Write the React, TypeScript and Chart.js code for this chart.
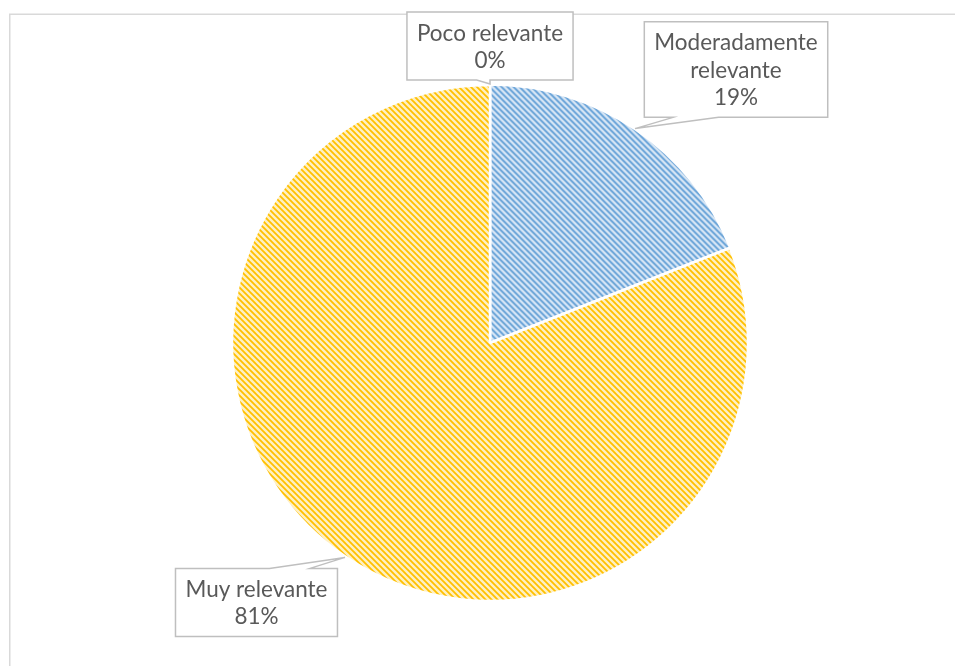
import React, { useEffect, useRef } from 'react';
import { Chart, registerables } from 'chart.js';

Chart.register(...registerables);

// ---- data ----
const categories = ['Poco relevante', 'Moderadamente relevante', 'Muy relevante'];
const values = [0, 19, 81];
const percentLabels = ['0%', '19%', '81%'];
const labelLines = [['Poco relevante'], ['Moderadamente', 'relevante'], ['Muy relevante']];
const baseColors = ['#a5a5a5', '#5b9bd5', '#ffc000'];
const lightColors = ['#ededed', '#dce9f6', '#fff0c2'];

// ---- layout of callouts (offset of box centre from the slice's rim point) ----
const calloutLayout = [
  { dx: 0, dy: -39, side: 'bottom', t0: 0.42, t1: 0.5 },
  { dx: 101, dy: -60, side: 'bottom', t0: 0.157, t1: 0.405 },
  { dx: -88.5, dy: 46, side: 'top', t0: 0.58, t1: 0.83 },
];

const FONT = '22.5px Lato, "Liberation Sans", sans-serif';
const LINE_H = 27.5;

function makePattern(bg: string, fg: string): CanvasPattern | string {
  const c = document.createElement('canvas');
  c.width = 6;
  c.height = 6;
  const g = c.getContext('2d');
  if (!g) return fg;
  g.fillStyle = bg;
  g.fillRect(0, 0, 6, 6);
  g.strokeStyle = fg;
  g.lineWidth = 1.8;
  g.beginPath();
  for (const k of [-6, 0, 6]) {
    g.moveTo(k - 1, -1);
    g.lineTo(k + 7, 7);
  }
  g.stroke();
  return g.createPattern(c, 'repeat') || fg;
}

const framePlugin = {
  id: 'frame',
  beforeDraw(chart: any) {
    const ctx = chart.ctx as CanvasRenderingContext2D;
    ctx.save();
    ctx.fillStyle = '#ffffff';
    ctx.fillRect(0, 0, chart.width, chart.height);
    ctx.strokeStyle = '#d9d9d9';
    ctx.lineWidth = 1.5;
    ctx.strokeRect(9.75, 14.25, chart.width + 20, chart.height + 20);
    ctx.restore();
  },
};

const calloutPlugin = {
  id: 'callouts',
  afterDraw(chart: any) {
    const ctx = chart.ctx as CanvasRenderingContext2D;
    const meta = chart.getDatasetMeta(0);
    ctx.save();
    ctx.font = FONT;
    meta.data.forEach((arc: any, i: number) => {
      const p = arc.getProps(['x', 'y', 'startAngle', 'endAngle', 'outerRadius'], true);
      const mid = (p.startAngle + p.endAngle) / 2;
      const ax = p.x + Math.cos(mid) * p.outerRadius;
      const ay = p.y + Math.sin(mid) * p.outerRadius;
      const lines = [...labelLines[i], percentLabels[i]];
      const tw = Math.max(...lines.map((l) => ctx.measureText(l).width));
      const w = tw + 20;
      const h = lines.length * LINE_H + 13;
      const lay = calloutLayout[i];
      const cx = ax + lay.dx;
      const cy = ay + lay.dy;
      const left = cx - w / 2;
      const right = cx + w / 2;
      const top = cy - h / 2;
      const bottom = cy + h / 2;
      const b0 = left + w * lay.t0;
      const b1 = left + w * lay.t1;
      ctx.beginPath();
      if (lay.side === 'bottom') {
        ctx.moveTo(left, top);
        ctx.lineTo(right, top);
        ctx.lineTo(right, bottom);
        ctx.lineTo(b1, bottom);
        ctx.lineTo(ax, ay - 1);
        ctx.lineTo(b0, bottom);
        ctx.lineTo(left, bottom);
      } else {
        ctx.moveTo(left, top);
        ctx.lineTo(b0, top);
        ctx.lineTo(ax, ay + 1);
        ctx.lineTo(b1, top);
        ctx.lineTo(right, top);
        ctx.lineTo(right, bottom);
        ctx.lineTo(left, bottom);
      }
      ctx.closePath();
      ctx.fillStyle = '#ffffff';
      ctx.fill();
      ctx.strokeStyle = '#bfbfbf';
      ctx.lineWidth = 1.5;
      ctx.stroke();

      ctx.fillStyle = '#595959';
      ctx.textAlign = 'center';
      ctx.textBaseline = 'middle';
      lines.forEach((l, j) => {
        ctx.fillText(l, cx, top + 6.5 + LINE_H / 2 + j * LINE_H + 1);
      });
    });
    ctx.restore();
  },
};

export default function App() {
  const ref = useRef<HTMLCanvasElement | null>(null);
  useEffect(() => {
    if (!ref.current) return;
    const patterns = baseColors.map((c, i) => makePattern(lightColors[i], c));
    const chart = new Chart(ref.current, {
      type: 'pie',
      data: {
        labels: categories,
        datasets: [
          {
            data: values,
            backgroundColor: patterns as any,
            borderColor: '#ffffff',
            borderWidth: 2.5,
            offset: [0, 2, 0],
            radius: 258,
          } as any,
        ],
      },
      options: {
        responsive: false,
        animation: false,
        events: [],
        layout: { padding: { left: 25, top: 20, right: 0, bottom: 0 } },
        plugins: {
          legend: { display: false },
          tooltip: { enabled: false },
        },
      },
      plugins: [framePlugin, calloutPlugin],
    });
    return () => chart.destroy();
  }, []);
  return (
    <canvas
      ref={ref}
      width={955}
      height={666}
      style={{ position: 'fixed', left: 0, top: 0, width: 955, height: 666 }}
    />
  );
}
